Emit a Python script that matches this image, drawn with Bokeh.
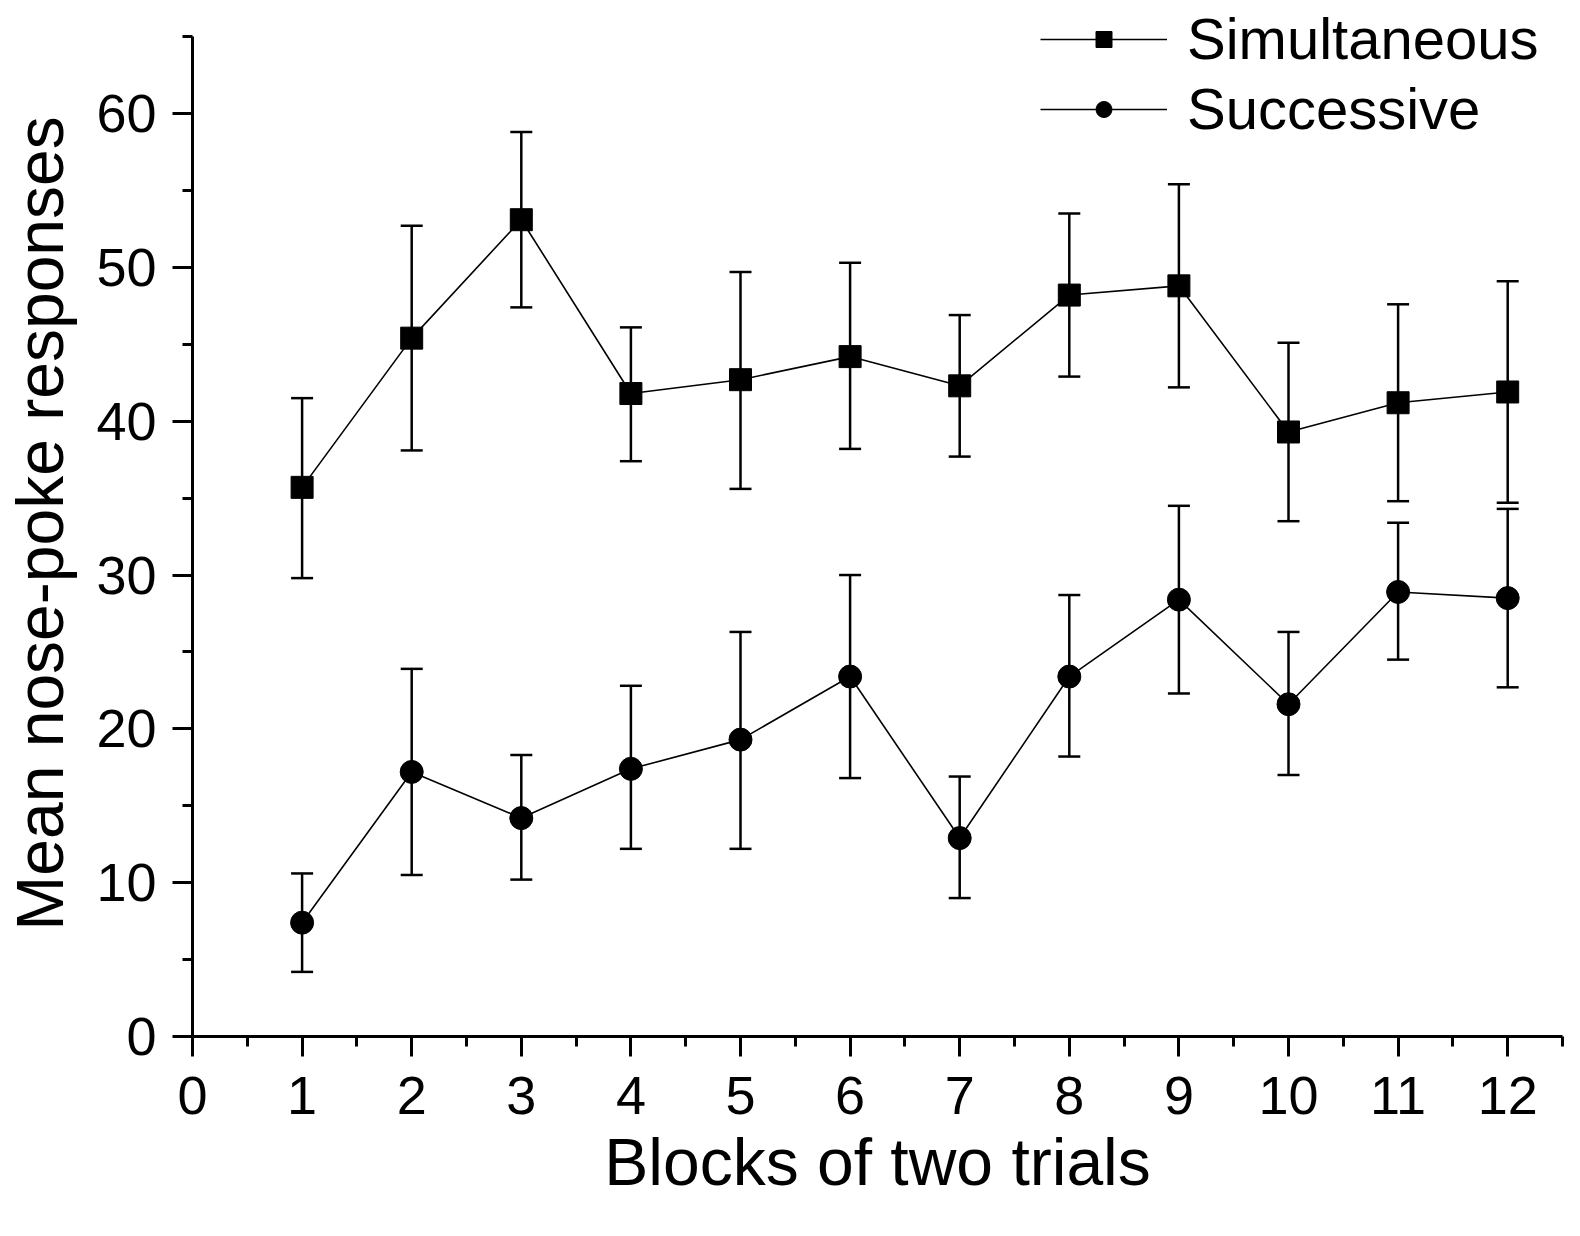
from bokeh.plotting import figure
from bokeh.models import (Range1d, FixedTicker, Whisker, TeeHead, ColumnDataSource,
                          Legend, LegendItem)
from bokeh.embed import file_html
from bokeh.resources import INLINE

# ---- data ----
blocks = [1, 2, 3, 4, 5, 6, 7, 8, 9, 10, 11, 12]
sim_mean = [35.7, 45.4, 53.1, 41.8, 42.7, 44.2, 42.3, 48.2, 48.8, 39.3, 41.2, 41.9]
sim_upper = [41.5, 52.7, 58.8, 46.1, 49.7, 50.3, 46.9, 53.5, 55.4, 45.1, 47.6, 49.1]
sim_lower = [29.8, 38.1, 47.4, 37.4, 35.6, 38.2, 37.7, 42.9, 42.2, 33.5, 34.8, 34.7]
succ_mean = [7.4, 17.2, 14.2, 17.4, 19.3, 23.4, 12.9, 23.4, 28.4, 21.6, 28.9, 28.5]
succ_upper = [10.6, 23.9, 18.3, 22.8, 26.3, 30.0, 16.9, 28.7, 34.5, 26.3, 33.4, 34.3]
succ_lower = [4.2, 10.5, 10.2, 12.2, 12.2, 16.8, 9.0, 18.2, 22.3, 17.0, 24.5, 22.7]
x_ticks = [0, 1, 2, 3, 4, 5, 6, 7, 8, 9, 10, 11, 12]
x_minor = [0.5, 1.5, 2.5, 3.5, 4.5, 5.5, 6.5, 7.5, 8.5, 9.5, 10.5, 11.5, 12.5]
y_ticks = [0, 10, 20, 30, 40, 50, 60]
y_minor = [5, 15, 25, 35, 45, 55, 65]
series_names = ["Simultaneous", "Successive"]

FONT = "Liberation Sans"

p = figure(width=1564, height=1220,
           x_range=Range1d(0, 12.5), y_range=Range1d(0, 66.7),
           output_backend="svg", toolbar_location=None,
           min_border_left=192, min_border_right=2,
           min_border_top=10, min_border_bottom=184)
p.xgrid.visible = False
p.ygrid.visible = False
p.outline_line_color = None
p.background_fill_color = "white"
p.border_fill_color = "white"

src_sim = ColumnDataSource(dict(x=blocks, y=sim_mean, upper=sim_upper, lower=sim_lower))
src_succ = ColumnDataSource(dict(x=blocks, y=succ_mean, upper=succ_upper, lower=succ_lower))

for src in (src_sim, src_succ):
    w = Whisker(source=src, base="x", upper="upper", lower="lower",
                line_width=2.5, line_color="black",
                upper_head=TeeHead(size=22, line_width=2.5, line_color="black"),
                lower_head=TeeHead(size=22, line_width=2.5, line_color="black"))
    p.add_layout(w)

l1 = p.line("x", "y", source=src_sim, line_width=1.6, line_color="black")
m1 = p.scatter("x", "y", source=src_sim, marker="square", size=22,
               fill_color="black", line_color="black")
l2 = p.line("x", "y", source=src_succ, line_width=1.6, line_color="black")
m2 = p.scatter("x", "y", source=src_succ, marker="circle", size=23,
               fill_color="black", line_color="black")

p.xaxis.ticker = FixedTicker(ticks=x_ticks, minor_ticks=x_minor)
p.yaxis.ticker = FixedTicker(ticks=y_ticks, minor_ticks=y_minor)
p.yaxis.bounds = (0, 65)
p.xaxis.axis_label = "Blocks of two trials"
p.yaxis.axis_label = "Mean nose-poke responses"

for ax in (p.xaxis[0], p.yaxis[0]):
    ax.axis_line_width = 3
    ax.axis_line_color = "black"
    ax.major_tick_line_width = 3
    ax.minor_tick_line_width = 3
    ax.major_tick_line_color = "black"
    ax.minor_tick_line_color = "black"
    ax.major_tick_out = 20
    ax.major_tick_in = 0
    ax.minor_tick_out = 10
    ax.minor_tick_in = 0
    ax.major_label_text_font = FONT
    ax.major_label_text_font_size = "54px"
    ax.major_label_text_color = "black"
    ax.axis_label_text_font = FONT
    ax.axis_label_text_font_size = "66px"
    ax.axis_label_text_font_style = "normal"
    ax.axis_label_text_color = "black"

p.yaxis.major_label_standoff = 16
p.xaxis.major_label_standoff = 20
p.yaxis.axis_label_standoff = 16
p.xaxis.axis_label_standoff = 8


def make_legend(item, loc):
    lg = Legend(items=[item], location=loc)
    lg.padding = 0
    lg.margin = 0
    lg.border_line_color = None
    lg.background_fill_alpha = 0
    lg.glyph_width = 127
    lg.glyph_height = 40
    lg.label_height = 40
    lg.spacing = 0
    lg.label_standoff = 20
    lg.label_text_font = FONT
    lg.label_text_font_size = "58px"
    lg.label_text_color = "black"
    return lg


p.add_layout(make_legend(LegendItem(label=series_names[0], renderers=[l1, m1]), (848, 964)))
p.add_layout(make_legend(LegendItem(label=series_names[1], renderers=[l2, m2]), (848, 894)))

open("out.html", "w").write(file_html(p, INLINE))
